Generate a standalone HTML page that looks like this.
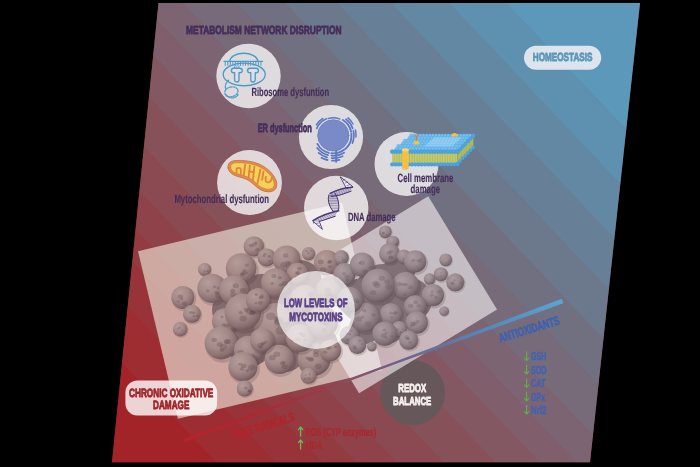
<!DOCTYPE html>
<html><head><meta charset="utf-8"><title>Mycotoxins redox balance</title>
<style>
html,body{margin:0;padding:0;background:#000;}
body{width:700px;height:467px;overflow:hidden;position:relative;font-family:"Liberation Sans",sans-serif;}
svg{display:block;position:absolute;left:0;top:0;will-change:transform;transform:translateZ(0);}
text{font-family:"Liberation Sans",sans-serif;font-weight:bold;text-rendering:geometricPrecision;}
</style></head><body>
<svg width="700" height="467" viewBox="0 0 700 467">
<defs>
<clipPath id="pc"><polygon points="158.5,3 640,3 590,462.3 112,462.3"/></clipPath>
</defs>
<g clip-path="url(#pc)">
<rect x="0" y="0" width="700" height="467" fill="#a32428"/>
<polygon points="-600,0 -221.4,0 221.316,467 -157.284,467" fill="#a32428"/>
<polygon points="-222,0 -162.4,0 280.316,467 220.716,467" fill="#9e2d32"/>
<polygon points="-163,0 -115.4,0 327.316,467 279.716,467" fill="#983439"/>
<polygon points="-116,0 -81.4,0 361.316,467 326.716,467" fill="#933b41"/>
<polygon points="-82,0 -41.4,0 401.316,467 360.716,467" fill="#8f4249"/>
<polygon points="-42,0 5.6,0 448.316,467 400.716,467" fill="#8b4951"/>
<polygon points="5,0 57.6,0 500.316,467 447.716,467" fill="#87515a"/>
<polygon points="57,0 101.6,0 544.316,467 499.716,467" fill="#835863"/>
<polygon points="101,0 138.6,0 581.316,467 543.716,467" fill="#805e6b"/>
<polygon points="138,0 180.1,0 622.816,467 580.716,467" fill="#7c6472"/>
<polygon points="179.5,0 233.6,0 676.316,467 622.216,467" fill="#776a79"/>
<polygon points="233,0 282.6,0 725.316,467 675.716,467" fill="#717081"/>
<polygon points="282,0 334.6,0 777.316,467 724.716,467" fill="#6c788c"/>
<polygon points="334,0 388.6,0 831.316,467 776.716,467" fill="#678098"/>
<polygon points="388,0 446.6,0 889.316,467 830.716,467" fill="#6288a3"/>
<polygon points="446,0 503.6,0 946.316,467 888.716,467" fill="#5e90af"/>
<polygon points="503,0 900.6,0 1343.32,467 945.716,467" fill="#5b98ba"/>
</g>
<circle cx="412.7" cy="392.7" r="32.4" fill="#66585a"/>
<defs>
<radialGradient id="sg" cx="0.40" cy="0.34" r="0.72" fx="0.36" fy="0.30"><stop offset="0" stop-color="#b49c99"/><stop offset="0.48" stop-color="#a48b89"/><stop offset="0.78" stop-color="#8a7071"/><stop offset="1" stop-color="#695052"/></radialGradient>
<radialGradient id="sg2" cx="0.40" cy="0.34" r="0.72" fx="0.36" fy="0.30"><stop offset="0" stop-color="#ad9da1"/><stop offset="0.48" stop-color="#9b8b90"/><stop offset="0.78" stop-color="#807075"/><stop offset="1" stop-color="#5f5156"/></radialGradient>
</defs>
<rect x="0" y="0" width="209.8" height="172.3" transform="translate(138,251.2) rotate(-13.4)" fill="#f0eede" fill-opacity="0.62"/>
<rect x="0" y="0" width="161.4" height="132.4" transform="translate(290.3,280.2) rotate(-31.3)" fill="#f6f2f4" fill-opacity="0.61"/>
<circle cx="262" cy="300" r="26" fill="#836a6c"/>
<circle cx="298" cy="322" r="30" fill="#836a6c"/>
<circle cx="250" cy="342" r="24" fill="#836a6c"/>
<circle cx="300" cy="282" r="22" fill="#836a6c"/>
<circle cx="232" cy="310" r="20" fill="#836a6c"/>
<circle cx="285" cy="352" r="20" fill="#836a6c"/>
<circle cx="318" cy="345" r="20" fill="#836a6c"/>
<circle cx="205.2" cy="270.3" r="6.9" fill="#4a3336" opacity="0.20"/><circle cx="204.6" cy="269.4" r="6.5" fill="url(#sg)"/><ellipse cx="204.5" cy="271.3" rx="1.3" ry="1.0" fill="#5e484c" opacity="0.30"/><ellipse cx="207.5" cy="271.2" rx="1.1" ry="0.8" fill="#5e484c" opacity="0.30"/><ellipse cx="207.5" cy="271.0" rx="0.8" ry="0.6" fill="#5e484c" opacity="0.30"/>
<circle cx="184.0" cy="299.0" r="12.2" fill="#4a3336" opacity="0.20"/><circle cx="182.8" cy="297.4" r="11.5" fill="url(#sg)"/><ellipse cx="181.8" cy="299.4" rx="1.5" ry="1.1" fill="#5e484c" opacity="0.30"/><ellipse cx="178.2" cy="301.4" rx="1.5" ry="1.2" fill="#5e484c" opacity="0.30"/><ellipse cx="184.6" cy="303.6" rx="2.8" ry="2.2" fill="#5e484c" opacity="0.30"/><ellipse cx="180.3" cy="296.7" rx="2.9" ry="2.2" fill="#5e484c" opacity="0.30"/>
<circle cx="192.8" cy="315.1" r="9.5" fill="#4a3336" opacity="0.20"/><circle cx="191.9" cy="313.8" r="9.0" fill="url(#sg)"/><ellipse cx="197.4" cy="316.1" rx="1.4" ry="1.1" fill="#5e484c" opacity="0.30"/><ellipse cx="193.8" cy="316.2" rx="1.4" ry="1.1" fill="#5e484c" opacity="0.30"/><ellipse cx="193.5" cy="312.8" rx="1.8" ry="1.4" fill="#5e484c" opacity="0.30"/><ellipse cx="190.7" cy="312.5" rx="1.7" ry="1.3" fill="#5e484c" opacity="0.30"/>
<circle cx="180.9" cy="330.1" r="7.7" fill="#4a3336" opacity="0.20"/><circle cx="180.2" cy="329.1" r="7.3" fill="url(#sg)"/><ellipse cx="182.0" cy="330.3" rx="1.0" ry="0.8" fill="#5e484c" opacity="0.30"/><ellipse cx="179.7" cy="327.5" rx="1.2" ry="0.9" fill="#5e484c" opacity="0.30"/><ellipse cx="178.5" cy="328.5" rx="1.1" ry="0.9" fill="#5e484c" opacity="0.30"/>
<circle cx="254.8" cy="247.8" r="10.8" fill="#4a3336" opacity="0.20"/><circle cx="253.8" cy="246.4" r="10.2" fill="url(#sg)"/><ellipse cx="256.0" cy="242.7" rx="1.5" ry="1.2" fill="#5e484c" opacity="0.30"/><ellipse cx="251.0" cy="245.6" rx="2.4" ry="1.9" fill="#5e484c" opacity="0.30"/><ellipse cx="254.2" cy="244.5" rx="2.6" ry="2.0" fill="#5e484c" opacity="0.30"/><ellipse cx="257.2" cy="249.8" rx="2.2" ry="1.8" fill="#5e484c" opacity="0.30"/>
<circle cx="267.5" cy="258.6" r="9.6" fill="#4a3336" opacity="0.20"/><circle cx="266.6" cy="257.3" r="9.1" fill="url(#sg)"/><ellipse cx="269.3" cy="261.0" rx="1.1" ry="0.9" fill="#5e484c" opacity="0.30"/><ellipse cx="265.0" cy="254.2" rx="1.8" ry="1.4" fill="#5e484c" opacity="0.30"/><ellipse cx="269.2" cy="256.3" rx="1.9" ry="1.5" fill="#5e484c" opacity="0.30"/><ellipse cx="264.1" cy="256.1" rx="1.6" ry="1.3" fill="#5e484c" opacity="0.30"/>
<circle cx="309.2" cy="254.6" r="7.0" fill="#4a3336" opacity="0.20"/><circle cx="308.5" cy="253.7" r="6.6" fill="url(#sg)"/><ellipse cx="311.1" cy="251.0" rx="1.2" ry="0.9" fill="#5e484c" opacity="0.30"/><ellipse cx="308.4" cy="253.3" rx="1.4" ry="1.1" fill="#5e484c" opacity="0.30"/><ellipse cx="306.6" cy="251.1" rx="1.5" ry="1.2" fill="#5e484c" opacity="0.30"/>
<circle cx="342.0" cy="258.3" r="7.7" fill="#4a3336" opacity="0.20"/><circle cx="341.3" cy="257.3" r="7.3" fill="url(#sg)"/><ellipse cx="341.4" cy="260.4" rx="1.5" ry="1.2" fill="#5e484c" opacity="0.30"/><ellipse cx="344.5" cy="258.4" rx="1.0" ry="0.8" fill="#5e484c" opacity="0.30"/><ellipse cx="342.8" cy="258.9" rx="1.6" ry="1.3" fill="#5e484c" opacity="0.30"/>
<circle cx="328.0" cy="264.6" r="13.6" fill="#4a3336" opacity="0.20"/><circle cx="326.7" cy="262.8" r="12.8" fill="url(#sg)"/><ellipse cx="330.1" cy="266.6" rx="2.2" ry="1.7" fill="#5e484c" opacity="0.30"/><ellipse cx="329.4" cy="262.3" rx="2.3" ry="1.8" fill="#5e484c" opacity="0.30"/><ellipse cx="320.8" cy="261.9" rx="2.9" ry="2.3" fill="#5e484c" opacity="0.30"/><ellipse cx="330.1" cy="261.4" rx="2.2" ry="1.7" fill="#5e484c" opacity="0.30"/><ellipse cx="323.2" cy="269.7" rx="3.2" ry="2.5" fill="#5e484c" opacity="0.30"/>
<circle cx="288.0" cy="261.1" r="14.6" fill="#4a3336" opacity="0.20"/><circle cx="286.6" cy="259.2" r="13.8" fill="url(#sg)"/><ellipse cx="289.6" cy="263.2" rx="2.0" ry="1.6" fill="#5e484c" opacity="0.30"/><ellipse cx="288.2" cy="265.8" rx="2.7" ry="2.1" fill="#5e484c" opacity="0.30"/><ellipse cx="287.5" cy="262.7" rx="2.4" ry="1.9" fill="#5e484c" opacity="0.30"/><ellipse cx="283.8" cy="264.8" rx="3.4" ry="2.7" fill="#5e484c" opacity="0.30"/><ellipse cx="285.7" cy="255.5" rx="2.8" ry="2.2" fill="#5e484c" opacity="0.30"/>
<circle cx="298.7" cy="275.2" r="11.7" fill="#4a3336" opacity="0.20"/><circle cx="297.6" cy="273.7" r="11.0" fill="url(#sg)"/><ellipse cx="297.6" cy="273.1" rx="2.6" ry="2.1" fill="#5e484c" opacity="0.30"/><ellipse cx="299.6" cy="268.7" rx="2.5" ry="1.9" fill="#5e484c" opacity="0.30"/><ellipse cx="295.6" cy="277.1" rx="1.4" ry="1.1" fill="#5e484c" opacity="0.30"/><ellipse cx="297.2" cy="273.3" rx="1.4" ry="1.1" fill="#5e484c" opacity="0.30"/>
<circle cx="242.6" cy="270.4" r="16.2" fill="#4a3336" opacity="0.20"/><circle cx="241.1" cy="268.3" r="15.3" fill="url(#sg)"/><ellipse cx="243.2" cy="273.2" rx="2.5" ry="1.9" fill="#5e484c" opacity="0.30"/><ellipse cx="244.5" cy="270.6" rx="2.1" ry="1.6" fill="#5e484c" opacity="0.30"/><ellipse cx="246.3" cy="272.8" rx="1.8" ry="1.4" fill="#5e484c" opacity="0.30"/><ellipse cx="247.0" cy="265.1" rx="2.1" ry="1.6" fill="#5e484c" opacity="0.30"/><ellipse cx="242.3" cy="274.6" rx="2.5" ry="2.0" fill="#5e484c" opacity="0.30"/>
<circle cx="213.4" cy="290.3" r="15.5" fill="#4a3336" opacity="0.20"/><circle cx="211.9" cy="288.3" r="14.6" fill="url(#sg)"/><ellipse cx="218.8" cy="295.4" rx="3.7" ry="2.9" fill="#5e484c" opacity="0.30"/><ellipse cx="207.7" cy="290.9" rx="1.9" ry="1.4" fill="#5e484c" opacity="0.30"/><ellipse cx="216.7" cy="292.5" rx="2.2" ry="1.7" fill="#5e484c" opacity="0.30"/><ellipse cx="214.6" cy="286.9" rx="1.7" ry="1.4" fill="#5e484c" opacity="0.30"/><ellipse cx="218.6" cy="288.0" rx="2.0" ry="1.5" fill="#5e484c" opacity="0.30"/>
<circle cx="235.3" cy="292.1" r="15.5" fill="#4a3336" opacity="0.20"/><circle cx="233.8" cy="290.1" r="14.6" fill="url(#sg)"/><ellipse cx="232.7" cy="290.9" rx="2.7" ry="2.1" fill="#5e484c" opacity="0.30"/><ellipse cx="243.0" cy="290.5" rx="3.1" ry="2.4" fill="#5e484c" opacity="0.30"/><ellipse cx="234.6" cy="296.3" rx="2.0" ry="1.6" fill="#5e484c" opacity="0.30"/><ellipse cx="235.8" cy="285.8" rx="3.2" ry="2.5" fill="#5e484c" opacity="0.30"/><ellipse cx="233.2" cy="294.8" rx="3.3" ry="2.6" fill="#5e484c" opacity="0.30"/>
<circle cx="277.2" cy="284.8" r="15.5" fill="#4a3336" opacity="0.20"/><circle cx="275.7" cy="282.8" r="14.6" fill="url(#sg)"/><ellipse cx="284.9" cy="283.5" rx="3.3" ry="2.6" fill="#5e484c" opacity="0.30"/><ellipse cx="279.9" cy="277.7" rx="2.1" ry="1.7" fill="#5e484c" opacity="0.30"/><ellipse cx="272.3" cy="283.7" rx="1.7" ry="1.4" fill="#5e484c" opacity="0.30"/><ellipse cx="280.9" cy="285.0" rx="2.2" ry="1.7" fill="#5e484c" opacity="0.30"/><ellipse cx="273.8" cy="276.1" rx="2.6" ry="2.0" fill="#5e484c" opacity="0.30"/>
<circle cx="226.0" cy="322.9" r="13.6" fill="#4a3336" opacity="0.20"/><circle cx="224.7" cy="321.1" r="12.8" fill="url(#sg)"/><ellipse cx="233.0" cy="319.3" rx="3.2" ry="2.5" fill="#5e484c" opacity="0.30"/><ellipse cx="223.6" cy="324.8" rx="1.9" ry="1.5" fill="#5e484c" opacity="0.30"/><ellipse cx="226.8" cy="325.4" rx="2.6" ry="2.0" fill="#5e484c" opacity="0.30"/><ellipse cx="231.4" cy="318.3" rx="2.3" ry="1.8" fill="#5e484c" opacity="0.30"/><ellipse cx="221.9" cy="316.9" rx="1.6" ry="1.3" fill="#5e484c" opacity="0.30"/>
<circle cx="277.9" cy="327.9" r="23.2" fill="#4a3336" opacity="0.20"/><circle cx="275.7" cy="324.8" r="21.9" fill="url(#sg)"/><ellipse cx="270.7" cy="316.3" rx="4.9" ry="3.8" fill="#5e484c" opacity="0.30"/><ellipse cx="277.5" cy="318.8" rx="3.1" ry="2.4" fill="#5e484c" opacity="0.30"/><ellipse cx="279.1" cy="320.5" rx="4.9" ry="3.9" fill="#5e484c" opacity="0.30"/><ellipse cx="284.7" cy="325.7" rx="3.7" ry="2.9" fill="#5e484c" opacity="0.30"/><ellipse cx="287.6" cy="323.5" rx="3.0" ry="2.4" fill="#5e484c" opacity="0.30"/><ellipse cx="280.8" cy="330.5" rx="5.3" ry="4.1" fill="#5e484c" opacity="0.30"/><ellipse cx="279.1" cy="322.5" rx="5.0" ry="3.9" fill="#5e484c" opacity="0.30"/>
<circle cx="244.7" cy="314.5" r="19.3" fill="#4a3336" opacity="0.20"/><circle cx="242.9" cy="312.0" r="18.2" fill="url(#sg)"/><ellipse cx="252.6" cy="312.8" rx="3.0" ry="2.3" fill="#5e484c" opacity="0.30"/><ellipse cx="240.7" cy="312.7" rx="2.1" ry="1.7" fill="#5e484c" opacity="0.30"/><ellipse cx="252.5" cy="312.3" rx="3.4" ry="2.7" fill="#5e484c" opacity="0.30"/><ellipse cx="250.2" cy="311.2" rx="4.3" ry="3.4" fill="#5e484c" opacity="0.30"/><ellipse cx="246.4" cy="309.8" rx="2.7" ry="2.1" fill="#5e484c" opacity="0.30"/><ellipse cx="243.1" cy="318.4" rx="3.6" ry="2.8" fill="#5e484c" opacity="0.30"/>
<circle cx="222.6" cy="345.3" r="17.4" fill="#4a3336" opacity="0.20"/><circle cx="221.0" cy="343.0" r="16.4" fill="url(#sg)"/><ellipse cx="222.0" cy="350.3" rx="2.2" ry="1.7" fill="#5e484c" opacity="0.30"/><ellipse cx="226.7" cy="341.9" rx="2.9" ry="2.3" fill="#5e484c" opacity="0.30"/><ellipse cx="214.1" cy="339.9" rx="2.8" ry="2.2" fill="#5e484c" opacity="0.30"/><ellipse cx="227.8" cy="341.5" rx="3.1" ry="2.4" fill="#5e484c" opacity="0.30"/><ellipse cx="219.7" cy="344.3" rx="2.9" ry="2.3" fill="#5e484c" opacity="0.30"/><ellipse cx="223.3" cy="346.9" rx="3.7" ry="2.9" fill="#5e484c" opacity="0.30"/>
<circle cx="315.6" cy="361.7" r="17.4" fill="#4a3336" opacity="0.20"/><circle cx="314.0" cy="359.4" r="16.4" fill="url(#sg)"/><ellipse cx="318.2" cy="366.4" rx="3.5" ry="2.8" fill="#5e484c" opacity="0.30"/><ellipse cx="310.6" cy="359.3" rx="3.1" ry="2.4" fill="#5e484c" opacity="0.30"/><ellipse cx="307.3" cy="358.1" rx="2.1" ry="1.7" fill="#5e484c" opacity="0.30"/><ellipse cx="311.2" cy="359.4" rx="2.5" ry="2.0" fill="#5e484c" opacity="0.30"/><ellipse cx="316.2" cy="354.7" rx="3.2" ry="2.5" fill="#5e484c" opacity="0.30"/><ellipse cx="315.9" cy="351.6" rx="2.9" ry="2.3" fill="#5e484c" opacity="0.30"/>
<circle cx="331.4" cy="351.8" r="11.6" fill="#4a3336" opacity="0.20"/><circle cx="330.3" cy="350.3" r="10.9" fill="url(#sg)"/><ellipse cx="328.0" cy="348.6" rx="2.0" ry="1.6" fill="#5e484c" opacity="0.30"/><ellipse cx="329.8" cy="347.7" rx="2.1" ry="1.6" fill="#5e484c" opacity="0.30"/><ellipse cx="324.8" cy="352.3" rx="2.3" ry="1.8" fill="#5e484c" opacity="0.30"/><ellipse cx="335.8" cy="346.9" rx="1.6" ry="1.3" fill="#5e484c" opacity="0.30"/>
<circle cx="280.8" cy="361.4" r="15.5" fill="#4a3336" opacity="0.20"/><circle cx="279.3" cy="359.4" r="14.6" fill="url(#sg)"/><ellipse cx="272.4" cy="357.7" rx="3.4" ry="2.6" fill="#5e484c" opacity="0.30"/><ellipse cx="282.4" cy="363.2" rx="2.6" ry="2.0" fill="#5e484c" opacity="0.30"/><ellipse cx="283.9" cy="362.6" rx="1.8" ry="1.4" fill="#5e484c" opacity="0.30"/><ellipse cx="276.8" cy="354.2" rx="3.5" ry="2.7" fill="#5e484c" opacity="0.30"/><ellipse cx="284.5" cy="366.7" rx="3.0" ry="2.4" fill="#5e484c" opacity="0.30"/>
<circle cx="249.9" cy="352.3" r="15.5" fill="#4a3336" opacity="0.20"/><circle cx="248.4" cy="350.3" r="14.6" fill="url(#sg)"/><ellipse cx="254.7" cy="358.2" rx="3.6" ry="2.8" fill="#5e484c" opacity="0.30"/><ellipse cx="251.2" cy="360.3" rx="2.5" ry="1.9" fill="#5e484c" opacity="0.30"/><ellipse cx="240.6" cy="352.5" rx="3.4" ry="2.6" fill="#5e484c" opacity="0.30"/><ellipse cx="252.3" cy="356.1" rx="2.7" ry="2.1" fill="#5e484c" opacity="0.30"/><ellipse cx="247.7" cy="354.8" rx="2.3" ry="1.8" fill="#5e484c" opacity="0.30"/>
<circle cx="244.4" cy="368.7" r="15.5" fill="#4a3336" opacity="0.20"/><circle cx="242.9" cy="366.7" r="14.6" fill="url(#sg)"/><ellipse cx="243.7" cy="365.9" rx="2.8" ry="2.2" fill="#5e484c" opacity="0.30"/><ellipse cx="241.9" cy="369.0" rx="2.3" ry="1.8" fill="#5e484c" opacity="0.30"/><ellipse cx="240.0" cy="364.2" rx="1.8" ry="1.4" fill="#5e484c" opacity="0.30"/><ellipse cx="251.6" cy="367.4" rx="3.6" ry="2.8" fill="#5e484c" opacity="0.30"/><ellipse cx="247.2" cy="370.6" rx="1.8" ry="1.4" fill="#5e484c" opacity="0.30"/>
<circle cx="309.3" cy="376.9" r="8.5" fill="#4a3336" opacity="0.20"/><circle cx="308.5" cy="375.8" r="8.0" fill="url(#sg)"/><ellipse cx="309.5" cy="374.4" rx="1.1" ry="0.8" fill="#5e484c" opacity="0.30"/><ellipse cx="305.1" cy="378.8" rx="1.8" ry="1.4" fill="#5e484c" opacity="0.30"/><ellipse cx="309.0" cy="378.4" rx="1.9" ry="1.5" fill="#5e484c" opacity="0.30"/><ellipse cx="305.7" cy="375.0" rx="1.0" ry="0.8" fill="#5e484c" opacity="0.30"/>
<circle cx="245.5" cy="389.6" r="8.5" fill="#4a3336" opacity="0.20"/><circle cx="244.7" cy="388.5" r="8.0" fill="url(#sg)"/><ellipse cx="248.9" cy="390.6" rx="1.4" ry="1.1" fill="#5e484c" opacity="0.30"/><ellipse cx="249.6" cy="391.4" rx="1.6" ry="1.3" fill="#5e484c" opacity="0.30"/><ellipse cx="245.8" cy="387.9" rx="1.9" ry="1.5" fill="#5e484c" opacity="0.30"/><ellipse cx="249.4" cy="391.1" rx="1.4" ry="1.1" fill="#5e484c" opacity="0.30"/>
<circle cx="263.2" cy="341.7" r="12.7" fill="#4a3336" opacity="0.20"/><circle cx="262.0" cy="340.0" r="12.0" fill="url(#sg)"/><ellipse cx="260.3" cy="345.4" rx="2.9" ry="2.3" fill="#5e484c" opacity="0.30"/><ellipse cx="262.7" cy="343.7" rx="2.3" ry="1.8" fill="#5e484c" opacity="0.30"/><ellipse cx="263.1" cy="343.6" rx="1.6" ry="1.3" fill="#5e484c" opacity="0.30"/><ellipse cx="265.8" cy="342.1" rx="1.9" ry="1.5" fill="#5e484c" opacity="0.30"/><ellipse cx="260.9" cy="346.9" rx="1.9" ry="1.5" fill="#5e484c" opacity="0.30"/>
<circle cx="301.4" cy="340.0" r="14.8" fill="#4a3336" opacity="0.20"/><circle cx="300.0" cy="338.0" r="14.0" fill="url(#sg)"/><ellipse cx="297.8" cy="339.4" rx="2.3" ry="1.8" fill="#5e484c" opacity="0.30"/><ellipse cx="304.8" cy="339.8" rx="1.6" ry="1.3" fill="#5e484c" opacity="0.30"/><ellipse cx="300.5" cy="333.7" rx="2.0" ry="1.5" fill="#5e484c" opacity="0.30"/><ellipse cx="293.0" cy="340.7" rx="1.8" ry="1.4" fill="#5e484c" opacity="0.30"/><ellipse cx="303.2" cy="334.9" rx="2.6" ry="2.0" fill="#5e484c" opacity="0.30"/>
<circle cx="259.2" cy="301.7" r="12.7" fill="#4a3336" opacity="0.20"/><circle cx="258.0" cy="300.0" r="12.0" fill="url(#sg)"/><ellipse cx="261.0" cy="297.7" rx="2.2" ry="1.7" fill="#5e484c" opacity="0.30"/><ellipse cx="256.2" cy="294.4" rx="1.9" ry="1.5" fill="#5e484c" opacity="0.30"/><ellipse cx="261.8" cy="296.2" rx="2.4" ry="1.9" fill="#5e484c" opacity="0.30"/><ellipse cx="255.9" cy="303.3" rx="1.5" ry="1.2" fill="#5e484c" opacity="0.30"/><ellipse cx="260.5" cy="302.8" rx="2.6" ry="2.0" fill="#5e484c" opacity="0.30"/>
<circle cx="306.5" cy="302.1" r="15.9" fill="#4a3336" opacity="0.20"/><circle cx="305.0" cy="300.0" r="15.0" fill="url(#sg)"/><ellipse cx="306.1" cy="304.9" rx="1.9" ry="1.5" fill="#5e484c" opacity="0.30"/><ellipse cx="310.8" cy="294.5" rx="3.1" ry="2.4" fill="#5e484c" opacity="0.30"/><ellipse cx="305.4" cy="305.4" rx="2.3" ry="1.8" fill="#5e484c" opacity="0.30"/><ellipse cx="302.9" cy="302.3" rx="2.6" ry="2.1" fill="#5e484c" opacity="0.30"/><ellipse cx="305.4" cy="310.5" rx="3.7" ry="2.9" fill="#5e484c" opacity="0.30"/>
<circle cx="331.4" cy="292.0" r="14.8" fill="#4a3336" opacity="0.20"/><circle cx="330.0" cy="290.0" r="14.0" fill="url(#sg)"/><ellipse cx="327.6" cy="290.3" rx="3.5" ry="2.7" fill="#5e484c" opacity="0.30"/><ellipse cx="329.5" cy="295.5" rx="1.6" ry="1.3" fill="#5e484c" opacity="0.30"/><ellipse cx="327.3" cy="294.9" rx="2.6" ry="2.0" fill="#5e484c" opacity="0.30"/><ellipse cx="332.8" cy="296.6" rx="1.6" ry="1.3" fill="#5e484c" opacity="0.30"/><ellipse cx="330.9" cy="294.1" rx="2.4" ry="1.9" fill="#5e484c" opacity="0.30"/>
<circle cx="323.6" cy="324.2" r="17.0" fill="#4a3336" opacity="0.20"/><circle cx="322.0" cy="322.0" r="16.0" fill="url(#sg)"/><ellipse cx="325.8" cy="324.3" rx="2.5" ry="2.0" fill="#5e484c" opacity="0.30"/><ellipse cx="324.0" cy="330.4" rx="3.0" ry="2.4" fill="#5e484c" opacity="0.30"/><ellipse cx="323.3" cy="316.3" rx="3.4" ry="2.7" fill="#5e484c" opacity="0.30"/><ellipse cx="327.1" cy="319.9" rx="2.6" ry="2.0" fill="#5e484c" opacity="0.30"/><ellipse cx="326.8" cy="323.3" rx="3.4" ry="2.7" fill="#5e484c" opacity="0.30"/><ellipse cx="321.6" cy="321.5" rx="3.7" ry="2.9" fill="#5e484c" opacity="0.30"/>
<circle cx="383" cy="292" r="28" fill="#7f7176"/>
<circle cx="386" cy="322" r="22" fill="#7f7176"/>
<circle cx="410" cy="300" r="22" fill="#7f7176"/>
<circle cx="362" cy="300" r="22" fill="#7f7176"/>
<circle cx="400" cy="268" r="16" fill="#7f7176"/>
<circle cx="365" cy="328" r="16" fill="#7f7176"/>
<circle cx="385.9" cy="232.7" r="6.8" fill="#4a3336" opacity="0.20"/><circle cx="385.3" cy="231.8" r="6.4" fill="url(#sg2)"/><ellipse cx="383.3" cy="233.2" rx="1.6" ry="1.2" fill="#655a5f" opacity="0.30"/><ellipse cx="383.4" cy="233.0" rx="1.3" ry="1.0" fill="#655a5f" opacity="0.30"/><ellipse cx="386.8" cy="234.7" rx="1.3" ry="1.0" fill="#655a5f" opacity="0.30"/>
<circle cx="393.3" cy="243.0" r="6.8" fill="#4a3336" opacity="0.20"/><circle cx="392.7" cy="242.1" r="6.4" fill="url(#sg2)"/><ellipse cx="393.5" cy="241.5" rx="1.0" ry="0.8" fill="#655a5f" opacity="0.30"/><ellipse cx="396.1" cy="244.6" rx="1.3" ry="1.1" fill="#655a5f" opacity="0.30"/><ellipse cx="397.0" cy="243.8" rx="1.6" ry="1.2" fill="#655a5f" opacity="0.30"/>
<circle cx="446.3" cy="260.7" r="6.8" fill="#4a3336" opacity="0.20"/><circle cx="445.7" cy="259.8" r="6.4" fill="url(#sg2)"/><ellipse cx="444.6" cy="258.1" rx="0.9" ry="0.7" fill="#655a5f" opacity="0.30"/><ellipse cx="448.8" cy="260.7" rx="0.8" ry="0.6" fill="#655a5f" opacity="0.30"/><ellipse cx="446.8" cy="262.0" rx="0.8" ry="0.6" fill="#655a5f" opacity="0.30"/>
<circle cx="456.2" cy="283.6" r="9.5" fill="#4a3336" opacity="0.20"/><circle cx="455.3" cy="282.3" r="9.0" fill="url(#sg2)"/><ellipse cx="452.9" cy="283.9" rx="2.1" ry="1.6" fill="#655a5f" opacity="0.30"/><ellipse cx="452.0" cy="282.7" rx="1.7" ry="1.3" fill="#655a5f" opacity="0.30"/><ellipse cx="454.3" cy="280.4" rx="1.4" ry="1.1" fill="#655a5f" opacity="0.30"/><ellipse cx="461.6" cy="283.1" rx="2.1" ry="1.6" fill="#655a5f" opacity="0.30"/>
<circle cx="441.5" cy="275.3" r="7.4" fill="#4a3336" opacity="0.20"/><circle cx="440.8" cy="274.3" r="7.0" fill="url(#sg2)"/><ellipse cx="440.8" cy="273.0" rx="1.0" ry="0.8" fill="#655a5f" opacity="0.30"/><ellipse cx="441.0" cy="276.2" rx="1.5" ry="1.2" fill="#655a5f" opacity="0.30"/><ellipse cx="438.3" cy="277.2" rx="1.2" ry="0.9" fill="#655a5f" opacity="0.30"/>
<circle cx="430.2" cy="279.9" r="6.1" fill="#4a3336" opacity="0.20"/><circle cx="429.6" cy="279.1" r="5.8" fill="url(#sg2)"/><ellipse cx="433.1" cy="278.9" rx="0.7" ry="0.5" fill="#655a5f" opacity="0.30"/><ellipse cx="430.9" cy="282.9" rx="1.0" ry="0.8" fill="#655a5f" opacity="0.30"/><ellipse cx="432.0" cy="279.4" rx="0.7" ry="0.6" fill="#655a5f" opacity="0.30"/>
<circle cx="341.9" cy="259.2" r="7.4" fill="#4a3336" opacity="0.20"/><circle cx="341.2" cy="258.2" r="7.0" fill="url(#sg2)"/><ellipse cx="339.3" cy="256.3" rx="1.1" ry="0.8" fill="#655a5f" opacity="0.30"/><ellipse cx="343.6" cy="260.0" rx="1.7" ry="1.4" fill="#655a5f" opacity="0.30"/><ellipse cx="341.8" cy="257.5" rx="1.0" ry="0.8" fill="#655a5f" opacity="0.30"/>
<circle cx="345.6" cy="275.9" r="11.9" fill="#4a3336" opacity="0.20"/><circle cx="344.5" cy="274.3" r="11.2" fill="url(#sg2)"/><ellipse cx="347.0" cy="276.6" rx="2.5" ry="2.0" fill="#655a5f" opacity="0.30"/><ellipse cx="347.4" cy="279.6" rx="2.0" ry="1.5" fill="#655a5f" opacity="0.30"/><ellipse cx="347.4" cy="280.6" rx="1.5" ry="1.2" fill="#655a5f" opacity="0.30"/><ellipse cx="344.0" cy="273.6" rx="1.9" ry="1.5" fill="#655a5f" opacity="0.30"/>
<circle cx="390.4" cy="254.8" r="10.9" fill="#4a3336" opacity="0.20"/><circle cx="389.4" cy="253.4" r="10.3" fill="url(#sg2)"/><ellipse cx="390.9" cy="257.2" rx="2.6" ry="2.0" fill="#655a5f" opacity="0.30"/><ellipse cx="391.2" cy="251.6" rx="2.4" ry="1.9" fill="#655a5f" opacity="0.30"/><ellipse cx="391.1" cy="257.8" rx="2.4" ry="1.9" fill="#655a5f" opacity="0.30"/><ellipse cx="388.9" cy="252.9" rx="2.6" ry="2.0" fill="#655a5f" opacity="0.30"/>
<circle cx="404.6" cy="257.6" r="7.4" fill="#4a3336" opacity="0.20"/><circle cx="403.9" cy="256.6" r="7.0" fill="url(#sg2)"/><ellipse cx="404.9" cy="259.1" rx="1.6" ry="1.2" fill="#655a5f" opacity="0.30"/><ellipse cx="403.5" cy="259.1" rx="0.9" ry="0.7" fill="#655a5f" opacity="0.30"/><ellipse cx="407.0" cy="258.9" rx="1.0" ry="0.8" fill="#655a5f" opacity="0.30"/>
<circle cx="416.2" cy="263.0" r="11.9" fill="#4a3336" opacity="0.20"/><circle cx="415.1" cy="261.4" r="11.2" fill="url(#sg2)"/><ellipse cx="413.1" cy="260.4" rx="2.0" ry="1.6" fill="#655a5f" opacity="0.30"/><ellipse cx="420.1" cy="261.4" rx="2.2" ry="1.7" fill="#655a5f" opacity="0.30"/><ellipse cx="417.8" cy="260.6" rx="1.5" ry="1.2" fill="#655a5f" opacity="0.30"/><ellipse cx="421.0" cy="259.3" rx="1.7" ry="1.3" fill="#655a5f" opacity="0.30"/>
<circle cx="363.3" cy="266.3" r="12.9" fill="#4a3336" opacity="0.20"/><circle cx="362.1" cy="264.6" r="12.2" fill="url(#sg2)"/><ellipse cx="365.3" cy="271.5" rx="3.0" ry="2.3" fill="#655a5f" opacity="0.30"/><ellipse cx="365.5" cy="272.7" rx="2.9" ry="2.3" fill="#655a5f" opacity="0.30"/><ellipse cx="359.7" cy="263.2" rx="1.6" ry="1.2" fill="#655a5f" opacity="0.30"/><ellipse cx="370.2" cy="267.6" rx="1.8" ry="1.4" fill="#655a5f" opacity="0.30"/><ellipse cx="362.1" cy="262.7" rx="2.8" ry="2.2" fill="#655a5f" opacity="0.30"/>
<circle cx="406.9" cy="287.4" r="14.3" fill="#4a3336" opacity="0.20"/><circle cx="405.5" cy="285.5" r="13.5" fill="url(#sg2)"/><ellipse cx="403.4" cy="284.6" rx="1.9" ry="1.5" fill="#655a5f" opacity="0.30"/><ellipse cx="406.1" cy="284.4" rx="2.0" ry="1.5" fill="#655a5f" opacity="0.30"/><ellipse cx="399.7" cy="284.1" rx="2.7" ry="2.1" fill="#655a5f" opacity="0.30"/><ellipse cx="405.1" cy="294.6" rx="1.9" ry="1.5" fill="#655a5f" opacity="0.30"/><ellipse cx="410.3" cy="287.2" rx="2.4" ry="1.9" fill="#655a5f" opacity="0.30"/>
<circle cx="433.9" cy="296.7" r="11.9" fill="#4a3336" opacity="0.20"/><circle cx="432.8" cy="295.1" r="11.2" fill="url(#sg2)"/><ellipse cx="436.1" cy="297.2" rx="1.9" ry="1.5" fill="#655a5f" opacity="0.30"/><ellipse cx="431.6" cy="295.2" rx="1.8" ry="1.4" fill="#655a5f" opacity="0.30"/><ellipse cx="439.0" cy="291.9" rx="2.3" ry="1.8" fill="#655a5f" opacity="0.30"/><ellipse cx="432.0" cy="291.8" rx="1.5" ry="1.2" fill="#655a5f" opacity="0.30"/>
<circle cx="444.6" cy="311.9" r="5.1" fill="#4a3336" opacity="0.20"/><circle cx="444.1" cy="311.2" r="4.8" fill="url(#sg2)"/><ellipse cx="445.2" cy="311.8" rx="1.2" ry="0.9" fill="#655a5f" opacity="0.30"/><ellipse cx="443.6" cy="308.9" rx="0.6" ry="0.4" fill="#655a5f" opacity="0.30"/><ellipse cx="443.3" cy="310.3" rx="1.0" ry="0.8" fill="#655a5f" opacity="0.30"/>
<circle cx="416.2" cy="308.0" r="11.9" fill="#4a3336" opacity="0.20"/><circle cx="415.1" cy="306.4" r="11.2" fill="url(#sg2)"/><ellipse cx="413.1" cy="313.8" rx="1.4" ry="1.1" fill="#655a5f" opacity="0.30"/><ellipse cx="410.7" cy="305.9" rx="2.7" ry="2.1" fill="#655a5f" opacity="0.30"/><ellipse cx="415.6" cy="302.2" rx="2.5" ry="2.0" fill="#655a5f" opacity="0.30"/><ellipse cx="419.0" cy="305.7" rx="2.3" ry="1.8" fill="#655a5f" opacity="0.30"/>
<circle cx="379.9" cy="287.8" r="17.7" fill="#4a3336" opacity="0.20"/><circle cx="378.2" cy="285.5" r="16.7" fill="url(#sg2)"/><ellipse cx="387.1" cy="281.7" rx="2.9" ry="2.3" fill="#655a5f" opacity="0.30"/><ellipse cx="381.9" cy="278.2" rx="3.2" ry="2.5" fill="#655a5f" opacity="0.30"/><ellipse cx="375.6" cy="283.3" rx="3.3" ry="2.6" fill="#655a5f" opacity="0.30"/><ellipse cx="377.1" cy="285.2" rx="3.4" ry="2.7" fill="#655a5f" opacity="0.30"/><ellipse cx="388.9" cy="286.8" rx="3.6" ry="2.8" fill="#655a5f" opacity="0.30"/><ellipse cx="373.2" cy="292.5" rx="3.3" ry="2.6" fill="#655a5f" opacity="0.30"/>
<circle cx="417.8" cy="324.1" r="11.9" fill="#4a3336" opacity="0.20"/><circle cx="416.7" cy="322.5" r="11.2" fill="url(#sg2)"/><ellipse cx="411.9" cy="325.8" rx="1.4" ry="1.1" fill="#655a5f" opacity="0.30"/><ellipse cx="417.6" cy="321.8" rx="2.2" ry="1.7" fill="#655a5f" opacity="0.30"/><ellipse cx="414.7" cy="324.0" rx="2.4" ry="1.9" fill="#655a5f" opacity="0.30"/><ellipse cx="412.7" cy="323.7" rx="2.7" ry="2.1" fill="#655a5f" opacity="0.30"/>
<circle cx="392.1" cy="316.0" r="11.9" fill="#4a3336" opacity="0.20"/><circle cx="391.0" cy="314.4" r="11.2" fill="url(#sg2)"/><ellipse cx="391.8" cy="317.3" rx="1.8" ry="1.4" fill="#655a5f" opacity="0.30"/><ellipse cx="390.7" cy="313.0" rx="1.6" ry="1.2" fill="#655a5f" opacity="0.30"/><ellipse cx="396.2" cy="312.6" rx="2.0" ry="1.5" fill="#655a5f" opacity="0.30"/><ellipse cx="394.5" cy="313.4" rx="2.3" ry="1.8" fill="#655a5f" opacity="0.30"/>
<circle cx="366.8" cy="319.6" r="15.4" fill="#4a3336" opacity="0.20"/><circle cx="365.3" cy="317.6" r="14.5" fill="url(#sg2)"/><ellipse cx="368.1" cy="323.9" rx="3.3" ry="2.6" fill="#655a5f" opacity="0.30"/><ellipse cx="373.5" cy="314.9" rx="2.4" ry="1.9" fill="#655a5f" opacity="0.30"/><ellipse cx="362.7" cy="316.9" rx="1.9" ry="1.5" fill="#655a5f" opacity="0.30"/><ellipse cx="358.6" cy="319.2" rx="3.4" ry="2.6" fill="#655a5f" opacity="0.30"/><ellipse cx="364.4" cy="310.7" rx="2.2" ry="1.7" fill="#655a5f" opacity="0.30"/>
<circle cx="399.9" cy="330.0" r="8.5" fill="#4a3336" opacity="0.20"/><circle cx="399.1" cy="328.9" r="8.0" fill="url(#sg2)"/><ellipse cx="401.1" cy="332.2" rx="1.2" ry="1.0" fill="#655a5f" opacity="0.30"/><ellipse cx="400.4" cy="332.4" rx="1.6" ry="1.3" fill="#655a5f" opacity="0.30"/><ellipse cx="397.4" cy="329.8" rx="1.8" ry="1.4" fill="#655a5f" opacity="0.30"/><ellipse cx="402.6" cy="329.4" rx="1.0" ry="0.8" fill="#655a5f" opacity="0.30"/>
<circle cx="385.8" cy="335.4" r="12.9" fill="#4a3336" opacity="0.20"/><circle cx="384.6" cy="333.7" r="12.2" fill="url(#sg2)"/><ellipse cx="392.3" cy="336.3" rx="1.5" ry="1.2" fill="#655a5f" opacity="0.30"/><ellipse cx="384.3" cy="330.0" rx="1.9" ry="1.5" fill="#655a5f" opacity="0.30"/><ellipse cx="386.1" cy="333.0" rx="1.6" ry="1.3" fill="#655a5f" opacity="0.30"/><ellipse cx="383.7" cy="335.5" rx="2.8" ry="2.2" fill="#655a5f" opacity="0.30"/><ellipse cx="385.8" cy="337.5" rx="1.5" ry="1.2" fill="#655a5f" opacity="0.30"/>
<circle cx="409.7" cy="341.4" r="10.2" fill="#4a3336" opacity="0.20"/><circle cx="408.7" cy="340.1" r="9.6" fill="url(#sg2)"/><ellipse cx="407.1" cy="338.6" rx="1.9" ry="1.5" fill="#655a5f" opacity="0.30"/><ellipse cx="406.6" cy="336.9" rx="2.4" ry="1.9" fill="#655a5f" opacity="0.30"/><ellipse cx="408.5" cy="338.9" rx="1.7" ry="1.4" fill="#655a5f" opacity="0.30"/><ellipse cx="410.1" cy="342.4" rx="1.7" ry="1.4" fill="#655a5f" opacity="0.30"/>
<circle cx="350.3" cy="336.6" r="10.2" fill="#4a3336" opacity="0.20"/><circle cx="349.3" cy="335.3" r="9.6" fill="url(#sg2)"/><ellipse cx="349.6" cy="334.1" rx="1.5" ry="1.1" fill="#655a5f" opacity="0.30"/><ellipse cx="347.5" cy="340.0" rx="1.8" ry="1.4" fill="#655a5f" opacity="0.30"/><ellipse cx="346.4" cy="333.1" rx="1.6" ry="1.3" fill="#655a5f" opacity="0.30"/><ellipse cx="351.5" cy="330.9" rx="1.2" ry="1.0" fill="#655a5f" opacity="0.30"/>
<circle cx="358.2" cy="346.2" r="9.5" fill="#4a3336" opacity="0.20"/><circle cx="357.3" cy="344.9" r="9.0" fill="url(#sg2)"/><ellipse cx="362.0" cy="344.0" rx="1.2" ry="0.9" fill="#655a5f" opacity="0.30"/><ellipse cx="354.2" cy="347.0" rx="2.2" ry="1.7" fill="#655a5f" opacity="0.30"/><ellipse cx="355.3" cy="348.4" rx="2.1" ry="1.7" fill="#655a5f" opacity="0.30"/><ellipse cx="359.6" cy="340.7" rx="1.6" ry="1.3" fill="#655a5f" opacity="0.30"/>
<circle cx="372.3" cy="347.2" r="5.1" fill="#4a3336" opacity="0.20"/><circle cx="371.8" cy="346.5" r="4.8" fill="url(#sg2)"/><ellipse cx="371.5" cy="346.0" rx="1.0" ry="0.8" fill="#655a5f" opacity="0.30"/><ellipse cx="373.1" cy="345.0" rx="1.0" ry="0.8" fill="#655a5f" opacity="0.30"/><ellipse cx="372.8" cy="349.7" rx="1.2" ry="0.9" fill="#655a5f" opacity="0.30"/>
<circle cx="351.3" cy="301.8" r="13.8" fill="#4a3336" opacity="0.20"/><circle cx="350.0" cy="300.0" r="13.0" fill="url(#sg2)"/><ellipse cx="356.2" cy="300.6" rx="2.9" ry="2.3" fill="#655a5f" opacity="0.30"/><ellipse cx="347.8" cy="308.1" rx="3.0" ry="2.4" fill="#655a5f" opacity="0.30"/><ellipse cx="349.6" cy="303.3" rx="2.3" ry="1.8" fill="#655a5f" opacity="0.30"/><ellipse cx="344.7" cy="299.2" rx="2.4" ry="1.9" fill="#655a5f" opacity="0.30"/><ellipse cx="357.8" cy="302.5" rx="1.6" ry="1.3" fill="#655a5f" opacity="0.30"/>
<defs><linearGradient id="bm" gradientUnits="userSpaceOnUse" x1="184.6" y1="440.6" x2="562.5" y2="301"><stop offset="0" stop-color="#b5232b"/><stop offset="0.18" stop-color="#b0262f" stop-opacity="0.85"/><stop offset="0.36" stop-color="#a23646" stop-opacity="0.7"/><stop offset="0.44" stop-color="#8a4f68"/><stop offset="0.54" stop-color="#735f7e"/><stop offset="0.7" stop-color="#5f78a8"/><stop offset="0.85" stop-color="#558fc0"/><stop offset="1" stop-color="#5ba5cf"/></linearGradient></defs>
<polygon points="184.0,439.1 278.6,404.5 392.0,362.7 561.7,298.7 563.3,303.3 392.8,364.9 279.5,406.9 185.2,442.1" fill="url(#bm)"/>
<circle cx="248.5" cy="76" r="32.2" fill="#fff" fill-opacity="0.76"/>
<circle cx="331" cy="137" r="32.1" fill="#fff" fill-opacity="0.76"/>
<circle cx="249.5" cy="182.5" r="32.4" fill="#fff" fill-opacity="0.76"/>
<circle cx="336.2" cy="208" r="32.2" fill="#fff" fill-opacity="0.76"/>
<circle cx="406.5" cy="164" r="32" fill="#fff" fill-opacity="0.76"/>
<circle cx="316" cy="310" r="39" fill="#fff" fill-opacity="0.68"/>
<g fill="none" stroke="#4a9cc8" stroke-width="1.35" stroke-linecap="round" stroke-linejoin="round"><ellipse cx="244.2" cy="74.4" rx="21" ry="11.3"/><path d="M229.5,61.6 C231,50.5 256.5,50.5 258,61.6"/><path d="M224,61.4 H262.6" stroke-width="1.2"/><path d="M225.2,61.4 v4.0 M227.8,61.4 v4.0 M230.3,61.4 v4.0 M232.9,61.4 v4.0 M235.4,61.4 v4.0 M238.0,61.4 v4.0 M240.5,61.4 v4.0 M243.1,61.4 v4.0 M245.6,61.4 v4.0 M248.2,61.4 v4.0 M250.7,61.4 v4.0 M253.3,61.4 v4.0 M255.8,61.4 v4.0 M258.4,61.4 v4.0 M260.9,61.4 v4.0" stroke-width="1.0"/><path d="M233.7,68.2 h6.2 a2.2,2.2 0 0 1 0,4.6 h-0.9 v7.0 a2.2,2.2 0 0 1 -4.4,0 v-7.0 h-0.9 a2.2,2.2 0 0 1 0,-4.6 z" fill="#e4dde4"/><path d="M249.9,68.2 h6.2 a2.2,2.2 0 0 1 0,4.6 h-0.9 v7.0 a2.2,2.2 0 0 1 -4.4,0 v-7.0 h-0.9 a2.2,2.2 0 0 1 0,-4.6 z" fill="#e4dde4"/><path d="M234.6,68 v-2 M236.8,68 v-2 M239,68 v-2" stroke-width="0.8"/><path d="M228.6,80.2 C225.6,83 224.6,86.5 226,89.5" stroke-dasharray="2 1.3" stroke-width="1.25"/><ellipse cx="231.4" cy="91.8" rx="6.7" ry="4.9" transform="rotate(-14 231.4 91.8)" stroke-dasharray="2 1.3" stroke-width="1.25"/><path d="M226,94.6 C229,99.6 236,98.6 238,94.6" stroke-dasharray="2 1.3" stroke-width="1.25"/></g>
<g fill="none" stroke-linecap="round"><circle cx="333.3" cy="135.4" r="15.6" fill="#7a8ac9" stroke="#6c80c6" stroke-width="0.9"/><path d="M342.9,120.0 A18.2,18.2 0 0 1 351.1,131.6" stroke-width="1.9" stroke="#5f78c4"/><path d="M351.4,133.5 A18.2,18.2 0 0 1 345.5,148.9" stroke-width="1.9" stroke="#5f78c4"/><path d="M346.0,119.2 A20.6,20.6 0 0 1 352.7,128.4" stroke-width="1.7" stroke="#5f78c4"/><path d="M353.4,130.8 A20.6,20.6 0 0 1 352.4,143.1" stroke-width="1.7" stroke="#5f78c4"/><path d="M348.0,117.9 A22.8,22.8 0 0 1 353.0,124.0" stroke-width="1.5" stroke="#5f78c4"/><path d="M355.4,129.9 A22.8,22.8 0 0 1 356.0,137.0" stroke-width="1.5" stroke="#5f78c4"/><path d="M344.4,149.6 A18.0,18.0 0 0 1 331.4,153.3" stroke-width="1.9" stroke="#5f78c4"/><path d="M328.9,152.9 A18.0,18.0 0 0 1 317.4,143.9" stroke-width="1.9" stroke="#5f78c4"/><path d="M344.1,152.7 A20.4,20.4 0 0 1 331.5,155.7" stroke-width="1.8" stroke="#5f78c4"/><path d="M328.0,155.1 A20.4,20.4 0 0 1 317.2,148.0" stroke-width="1.8" stroke="#5f78c4"/><path d="M342.6,156.2 A22.8,22.8 0 0 1 331.7,158.1" stroke-width="1.8" stroke="#5f78c4"/><path d="M327.0,157.3 A22.8,22.8 0 0 1 318.6,152.9" stroke-width="1.8" stroke="#5f78c4"/><path d="M339.4,159.9 A25.2,25.2 0 0 1 332.0,160.6" stroke-width="1.8" stroke="#5f78c4"/><path d="M327.6,160.0 A25.2,25.2 0 0 1 321.5,157.7" stroke-width="1.8" stroke="#5f78c4"/><path d="M316.8,128.4 A17.9,17.9 0 0 1 326.6,118.8" stroke-width="1.7" stroke="#5f78c4"/><path d="M316.4,124.9 A19.9,19.9 0 0 1 322.8,118.5" stroke-width="1.5" stroke="#5f78c4"/><path d="M328.4,118.5 A17.6,17.6 0 0 1 339.9,119.1" stroke-width="1.4" stroke="#5f78c4"/><path d="M336.2,151 V161.8" stroke="#5f78c4" stroke-width="2"/></g>
<g stroke-linecap="round" stroke-linejoin="round"><path d="M228,168 C227.5,163.5 230,160.8 236,160.5 C243,160 252,161 259,164 C267,167.5 274,174 276.3,181 C278.2,187.5 275,192 268.5,191.8 C263,191.6 259.5,189.8 255.5,186 C251,181.7 247.5,179.2 242,177.7 C236.5,176.2 229,174.5 228,168 Z" fill="#e8894c" stroke="#b56a35" stroke-width="0.7"/><path d="M230.6,167.6 C230.4,164.4 232.3,163 236.5,162.8 C243,162.5 251.5,163.3 258,166.2 C265.5,169.5 271.6,175 273.7,181.4 C275.2,186.4 273,189.4 268.4,189.2 C263.8,189 260.6,187.4 257,184 C252.5,179.6 248.6,176.9 242.8,175.3 C237.6,173.9 231.2,172.6 230.6,167.6 Z" fill="#f3d257" stroke="#c97838" stroke-width="0.6"/><g fill="none" stroke="#e2823f" stroke-width="1.8"><path d="M236.5,172.6 V169.6 C236.5,167.4 240.8,167.4 240.8,169.6 V174.8"/><path d="M245.1,164.6 L243.8,175.4"/><path d="M249.9,165.6 L248.6,177.8"/><path d="M254.3,166.8 L252.9,180.6"/><path d="M249.3,171.4 L253.7,172.2"/><path d="M260.4,169.6 L257.4,183.6"/><path d="M263.5,171.6 L262.1,179.8"/><path d="M265.9,176.8 C265,180.4 265.6,182.4 268,182.4 C270.4,182.4 271.4,180.4 272.1,177.2"/></g></g>
<g fill="none" stroke="#4b3a78" stroke-linecap="round" stroke-linejoin="round"><path d="M340.5,177 L353,186.8 L346.8,188.4 Z" stroke-width="0.9" fill="#efe9f0"/><path d="M352.4,187.2 Q341.4,187.6 330.2,193.4" stroke-width="1.6"/><path d="M351.2,191.2 Q340.4,195.8 331.2,196.6" stroke-width="1"/><path d="M351.5,187.2 L349.0,192.1 M349.6,187.4 L347.3,192.8 M347.8,187.6 L345.5,193.4 M346.0,187.9 L343.8,194.0 M344.1,188.3 L342.1,194.5 M342.3,188.7 L340.4,194.9 M340.4,189.2 L338.8,195.4 M338.6,189.8 L337.2,195.7 M336.7,190.5 L335.5,196.0 M334.9,191.2 L334.0,196.3 M333.0,192.0 L332.4,196.5 M331.1,192.9 L331.2,196.6" stroke-width="0.5"/><path d="M328.9,194.8 Q326.4,202.4 333.0,211.4" stroke-width="1"/><path d="M335.2,193.2 Q340.0,202.0 338.6,210.2" stroke-width="1"/><path d="M328.7,195.6 L336.2,195.1 M328.4,197.1 L336.9,196.9 M328.2,198.7 L337.6,198.6 M328.3,200.3 L338.1,200.3 M328.5,201.9 L338.5,202.0 M328.9,203.6 L338.7,203.7 M329.5,205.3 L338.9,205.4 M330.3,207.0 L338.9,207.1 M331.2,208.7 L338.8,208.7 M332.4,210.5 L338.6,210.2" stroke-width="0.5"/><path d="M338.6,210.8 Q324.4,213.6 313.0,220.6" stroke-width="1.6"/><path d="M335.4,216.2 Q323.2,220.8 313.6,222.8" stroke-width="1"/><path d="M337.5,211.0 L333.0,217.1 M335.4,211.5 L331.2,217.7 M333.2,212.0 L329.4,218.4 M331.2,212.6 L327.6,218.9 M329.1,213.2 L325.9,219.5 M327.1,213.9 L324.2,220.0 M325.1,214.7 L322.6,220.5 M323.1,215.4 L320.9,221.0 M321.2,216.3 L319.3,221.4 M319.3,217.1 L317.7,221.8 M317.5,218.1 L316.2,222.2 M315.7,219.0 L314.7,222.6 M313.9,220.1 L313.6,222.8" stroke-width="0.5"/><path d="M313.2,221.4 L322.4,229.4 L319.2,221.2" stroke-width="0.9" fill="#efe9f0"/><path d="M343.2,180.4 l1.8,-0.8 M345.2,183 l2.6,-1.2 M347,185.6 l3,-1.2 M316.2,223.6 l2.2,-0.6 M318.6,225.8 l1.8,-0.6" stroke-width="0.55"/></g>
<polygon points="392.2,151.2 457.6,151.2 457.6,164.6 392.2,164.6" fill="#cdd27a"/><polygon points="457.6,151.2 473.2,135.4 473.2,147.8 457.6,164.6" fill="#bcc468"/><path d="M393.0,153.2 v9.4 M394.6,153.2 v9.4 M396.3,153.2 v9.4 M397.9,153.2 v9.4 M399.6,153.2 v9.4 M401.2,153.2 v9.4 M402.9,153.2 v9.4 M404.5,153.2 v9.4 M406.2,153.2 v9.4 M407.8,153.2 v9.4 M409.5,153.2 v9.4 M411.1,153.2 v9.4 M412.8,153.2 v9.4 M414.4,153.2 v9.4 M416.1,153.2 v9.4 M417.7,153.2 v9.4 M419.4,153.2 v9.4 M421.0,153.2 v9.4 M422.7,153.2 v9.4 M424.3,153.2 v9.4 M426.0,153.2 v9.4 M427.6,153.2 v9.4 M429.3,153.2 v9.4 M430.9,153.2 v9.4 M432.6,153.2 v9.4 M434.2,153.2 v9.4 M435.9,153.2 v9.4 M437.5,153.2 v9.4 M439.2,153.2 v9.4 M440.8,153.2 v9.4 M442.5,153.2 v9.4 M444.1,153.2 v9.4 M445.8,153.2 v9.4 M447.4,153.2 v9.4 M449.1,153.2 v9.4 M450.7,153.2 v9.4 M452.4,153.2 v9.4 M454.0,153.2 v9.4 M455.7,153.2 v9.4 M457.3,153.2 v9.4 M457.6,153.2 v8.4 M458.9,151.9 v8.4 M460.2,150.6 v8.4 M461.5,149.2 v8.4 M462.8,147.9 v8.4 M464.1,146.6 v8.4 M465.4,145.3 v8.4 M466.7,144.0 v8.4 M468.0,142.7 v8.4 M469.3,141.3 v8.4 M470.6,140.0 v8.4 M471.9,138.7 v8.4 M473.2,137.4 v8.4" stroke="#97a548" stroke-width="0.5" fill="none"/><polygon points="411.2,135.4 473.2,135.4 457.6,151.2 392.2,151.2" fill="#62b2e8"/><g fill="#76bff0" stroke="#4e9fdb" stroke-width="0.3"><circle cx="411.2" cy="135.4" r="1.75"/><circle cx="414.3" cy="135.4" r="1.75"/><circle cx="417.4" cy="135.4" r="1.75"/><circle cx="420.5" cy="135.4" r="1.75"/><circle cx="423.6" cy="135.4" r="1.75"/><circle cx="426.7" cy="135.4" r="1.75"/><circle cx="429.8" cy="135.4" r="1.75"/><circle cx="432.9" cy="135.4" r="1.75"/><circle cx="436.0" cy="135.4" r="1.75"/><circle cx="439.1" cy="135.4" r="1.75"/><circle cx="442.2" cy="135.4" r="1.75"/><circle cx="445.3" cy="135.4" r="1.75"/><circle cx="448.4" cy="135.4" r="1.75"/><circle cx="451.5" cy="135.4" r="1.75"/><circle cx="454.6" cy="135.4" r="1.75"/><circle cx="457.7" cy="135.4" r="1.75"/><circle cx="460.8" cy="135.4" r="1.75"/><circle cx="463.9" cy="135.4" r="1.75"/><circle cx="467.0" cy="135.4" r="1.75"/><circle cx="470.1" cy="135.4" r="1.75"/><circle cx="473.2" cy="135.4" r="1.75"/><circle cx="409.6" cy="138.0" r="1.75"/><circle cx="412.7" cy="138.0" r="1.75"/><circle cx="415.9" cy="138.0" r="1.75"/><circle cx="419.0" cy="138.0" r="1.75"/><circle cx="422.1" cy="138.0" r="1.75"/><circle cx="425.2" cy="138.0" r="1.75"/><circle cx="428.4" cy="138.0" r="1.75"/><circle cx="431.5" cy="138.0" r="1.75"/><circle cx="434.6" cy="138.0" r="1.75"/><circle cx="437.8" cy="138.0" r="1.75"/><circle cx="440.9" cy="138.0" r="1.75"/><circle cx="444.0" cy="138.0" r="1.75"/><circle cx="447.1" cy="138.0" r="1.75"/><circle cx="450.3" cy="138.0" r="1.75"/><circle cx="453.4" cy="138.0" r="1.75"/><circle cx="456.5" cy="138.0" r="1.75"/><circle cx="459.7" cy="138.0" r="1.75"/><circle cx="462.8" cy="138.0" r="1.75"/><circle cx="465.9" cy="138.0" r="1.75"/><circle cx="469.0" cy="138.0" r="1.75"/><circle cx="404.9" cy="140.7" r="1.75"/><circle cx="408.0" cy="140.7" r="1.75"/><circle cx="411.2" cy="140.7" r="1.75"/><circle cx="414.3" cy="140.7" r="1.75"/><circle cx="417.5" cy="140.7" r="1.75"/><circle cx="420.6" cy="140.7" r="1.75"/><circle cx="423.8" cy="140.7" r="1.75"/><circle cx="427.0" cy="140.7" r="1.75"/><circle cx="430.1" cy="140.7" r="1.75"/><circle cx="433.3" cy="140.7" r="1.75"/><circle cx="436.4" cy="140.7" r="1.75"/><circle cx="439.6" cy="140.7" r="1.75"/><circle cx="442.7" cy="140.7" r="1.75"/><circle cx="445.9" cy="140.7" r="1.75"/><circle cx="449.1" cy="140.7" r="1.75"/><circle cx="452.2" cy="140.7" r="1.75"/><circle cx="455.4" cy="140.7" r="1.75"/><circle cx="458.5" cy="140.7" r="1.75"/><circle cx="461.7" cy="140.7" r="1.75"/><circle cx="464.8" cy="140.7" r="1.75"/><circle cx="468.0" cy="140.7" r="1.75"/><circle cx="403.3" cy="143.3" r="1.75"/><circle cx="406.5" cy="143.3" r="1.75"/><circle cx="409.7" cy="143.3" r="1.75"/><circle cx="412.8" cy="143.3" r="1.75"/><circle cx="416.0" cy="143.3" r="1.75"/><circle cx="419.2" cy="143.3" r="1.75"/><circle cx="422.4" cy="143.3" r="1.75"/><circle cx="425.6" cy="143.3" r="1.75"/><circle cx="428.8" cy="143.3" r="1.75"/><circle cx="432.0" cy="143.3" r="1.75"/><circle cx="435.1" cy="143.3" r="1.75"/><circle cx="438.3" cy="143.3" r="1.75"/><circle cx="441.5" cy="143.3" r="1.75"/><circle cx="444.7" cy="143.3" r="1.75"/><circle cx="447.9" cy="143.3" r="1.75"/><circle cx="451.1" cy="143.3" r="1.75"/><circle cx="454.3" cy="143.3" r="1.75"/><circle cx="457.4" cy="143.3" r="1.75"/><circle cx="460.6" cy="143.3" r="1.75"/><circle cx="463.8" cy="143.3" r="1.75"/><circle cx="398.5" cy="145.9" r="1.75"/><circle cx="401.7" cy="145.9" r="1.75"/><circle cx="405.0" cy="145.9" r="1.75"/><circle cx="408.2" cy="145.9" r="1.75"/><circle cx="411.4" cy="145.9" r="1.75"/><circle cx="414.6" cy="145.9" r="1.75"/><circle cx="417.8" cy="145.9" r="1.75"/><circle cx="421.0" cy="145.9" r="1.75"/><circle cx="424.2" cy="145.9" r="1.75"/><circle cx="427.5" cy="145.9" r="1.75"/><circle cx="430.7" cy="145.9" r="1.75"/><circle cx="433.9" cy="145.9" r="1.75"/><circle cx="437.1" cy="145.9" r="1.75"/><circle cx="440.3" cy="145.9" r="1.75"/><circle cx="443.5" cy="145.9" r="1.75"/><circle cx="446.7" cy="145.9" r="1.75"/><circle cx="449.9" cy="145.9" r="1.75"/><circle cx="453.2" cy="145.9" r="1.75"/><circle cx="456.4" cy="145.9" r="1.75"/><circle cx="459.6" cy="145.9" r="1.75"/><circle cx="462.8" cy="145.9" r="1.75"/><circle cx="397.0" cy="148.6" r="1.75"/><circle cx="400.2" cy="148.6" r="1.75"/><circle cx="403.5" cy="148.6" r="1.75"/><circle cx="406.7" cy="148.6" r="1.75"/><circle cx="410.0" cy="148.6" r="1.75"/><circle cx="413.2" cy="148.6" r="1.75"/><circle cx="416.4" cy="148.6" r="1.75"/><circle cx="419.7" cy="148.6" r="1.75"/><circle cx="422.9" cy="148.6" r="1.75"/><circle cx="426.2" cy="148.6" r="1.75"/><circle cx="429.4" cy="148.6" r="1.75"/><circle cx="432.6" cy="148.6" r="1.75"/><circle cx="435.9" cy="148.6" r="1.75"/><circle cx="439.1" cy="148.6" r="1.75"/><circle cx="442.4" cy="148.6" r="1.75"/><circle cx="445.6" cy="148.6" r="1.75"/><circle cx="448.9" cy="148.6" r="1.75"/><circle cx="452.1" cy="148.6" r="1.75"/><circle cx="455.3" cy="148.6" r="1.75"/><circle cx="458.6" cy="148.6" r="1.75"/><circle cx="392.2" cy="151.2" r="1.75"/><circle cx="395.5" cy="151.2" r="1.75"/><circle cx="398.7" cy="151.2" r="1.75"/><circle cx="402.0" cy="151.2" r="1.75"/><circle cx="405.3" cy="151.2" r="1.75"/><circle cx="408.6" cy="151.2" r="1.75"/><circle cx="411.8" cy="151.2" r="1.75"/><circle cx="415.1" cy="151.2" r="1.75"/><circle cx="418.4" cy="151.2" r="1.75"/><circle cx="421.6" cy="151.2" r="1.75"/><circle cx="424.9" cy="151.2" r="1.75"/><circle cx="428.2" cy="151.2" r="1.75"/><circle cx="431.4" cy="151.2" r="1.75"/><circle cx="434.7" cy="151.2" r="1.75"/><circle cx="438.0" cy="151.2" r="1.75"/><circle cx="441.2" cy="151.2" r="1.75"/><circle cx="444.5" cy="151.2" r="1.75"/><circle cx="447.8" cy="151.2" r="1.75"/><circle cx="451.1" cy="151.2" r="1.75"/><circle cx="454.3" cy="151.2" r="1.75"/><circle cx="457.6" cy="151.2" r="1.75"/></g><polygon points="434,137.5 462,137.5 452,146.5 424,146.5" fill="#c9eafc" opacity="0.35"/><g fill="#4fa5e2" stroke="#378bce" stroke-width="0.3"><circle cx="392.2" cy="151.8" r="1.9"/><circle cx="392.2" cy="164.4" r="1.9"/><circle cx="395.5" cy="151.8" r="1.9"/><circle cx="395.5" cy="164.4" r="1.9"/><circle cx="398.7" cy="151.8" r="1.9"/><circle cx="398.7" cy="164.4" r="1.9"/><circle cx="402.0" cy="151.8" r="1.9"/><circle cx="402.0" cy="164.4" r="1.9"/><circle cx="405.3" cy="151.8" r="1.9"/><circle cx="405.3" cy="164.4" r="1.9"/><circle cx="408.5" cy="151.8" r="1.9"/><circle cx="408.5" cy="164.4" r="1.9"/><circle cx="411.8" cy="151.8" r="1.9"/><circle cx="411.8" cy="164.4" r="1.9"/><circle cx="415.1" cy="151.8" r="1.9"/><circle cx="415.1" cy="164.4" r="1.9"/><circle cx="418.4" cy="151.8" r="1.9"/><circle cx="418.4" cy="164.4" r="1.9"/><circle cx="421.6" cy="151.8" r="1.9"/><circle cx="421.6" cy="164.4" r="1.9"/><circle cx="424.9" cy="151.8" r="1.9"/><circle cx="424.9" cy="164.4" r="1.9"/><circle cx="428.2" cy="151.8" r="1.9"/><circle cx="428.2" cy="164.4" r="1.9"/><circle cx="431.4" cy="151.8" r="1.9"/><circle cx="431.4" cy="164.4" r="1.9"/><circle cx="434.7" cy="151.8" r="1.9"/><circle cx="434.7" cy="164.4" r="1.9"/><circle cx="438.0" cy="151.8" r="1.9"/><circle cx="438.0" cy="164.4" r="1.9"/><circle cx="441.2" cy="151.8" r="1.9"/><circle cx="441.2" cy="164.4" r="1.9"/><circle cx="444.5" cy="151.8" r="1.9"/><circle cx="444.5" cy="164.4" r="1.9"/><circle cx="447.8" cy="151.8" r="1.9"/><circle cx="447.8" cy="164.4" r="1.9"/><circle cx="451.1" cy="151.8" r="1.9"/><circle cx="451.1" cy="164.4" r="1.9"/><circle cx="454.3" cy="151.8" r="1.9"/><circle cx="454.3" cy="164.4" r="1.9"/><circle cx="457.6" cy="151.8" r="1.9"/><circle cx="457.6" cy="164.4" r="1.9"/><circle cx="457.6" cy="151.8" r="1.8"/><circle cx="457.6" cy="163.6" r="1.8"/><circle cx="460.2" cy="149.2" r="1.8"/><circle cx="460.2" cy="161.0" r="1.8"/><circle cx="462.8" cy="146.5" r="1.8"/><circle cx="462.8" cy="158.3" r="1.8"/><circle cx="465.4" cy="143.9" r="1.8"/><circle cx="465.4" cy="155.7" r="1.8"/><circle cx="468.0" cy="141.3" r="1.8"/><circle cx="468.0" cy="153.1" r="1.8"/><circle cx="470.6" cy="138.6" r="1.8"/><circle cx="470.6" cy="150.4" r="1.8"/><circle cx="473.2" cy="136.0" r="1.8"/><circle cx="473.2" cy="147.8" r="1.8"/></g><rect x="402.2" y="149.2" width="6.4" height="20.6" rx="2.6" fill="#f3c044"/><ellipse cx="405.4" cy="149.8" rx="3.6" ry="1.6" fill="#f8d668"/><path d="M413.2,144.4 C413.2,141.4 415,140.4 416.4,140.4 C417.8,140.4 419.6,141.4 419.6,144.4 Z" fill="#f3c044"/><path d="M416.4,140.6 V136 M416.4,137 L414.2,134.6 M416.4,137 L418.6,134.2" stroke="#e07b39" stroke-width="1" fill="none" stroke-linecap="round"/><path d="M451.2,136.4 C451.6,133.6 453.4,133 454.6,133 C455.8,133 457.8,133.6 458.2,136.4 Z" fill="#f3c044"/>
<rect x="524" y="45.8" width="77.2" height="24" rx="12" fill="#dde4ee"/>
<rect x="125.4" y="380.6" width="91.7" height="34.8" rx="12" fill="#fff" fill-opacity="0.80"/>
<text x="186.1" y="33.9" font-size="11.8" fill="#452f5c" stroke="#452f5c" stroke-width="0.85" stroke-linejoin="round" text-anchor="start" textLength="155.4" lengthAdjust="spacingAndGlyphs">METABOLISM NETWORK DISRUPTION</text>
<text x="562.6" y="61.3" font-size="11.8" fill="#5b98b8" stroke="#5b98b8" stroke-width="0.85" stroke-linejoin="round" text-anchor="middle" textLength="59.7" lengthAdjust="spacingAndGlyphs">HOMEOSTASIS</text>
<text x="171.2" y="397.1" font-size="12" fill="#a3242a" stroke="#a3242a" stroke-width="0.85" stroke-linejoin="round" text-anchor="middle" textLength="84.3" lengthAdjust="spacingAndGlyphs">CHRONIC OXIDATIVE</text>
<text x="171.2" y="409.2" font-size="12" fill="#a3242a" stroke="#a3242a" stroke-width="0.85" stroke-linejoin="round" text-anchor="middle" textLength="36.3" lengthAdjust="spacingAndGlyphs">DAMAGE</text>
<text x="412.2" y="391.6" font-size="11.6" fill="#f6f1ef" stroke="#f6f1ef" stroke-width="0.85" stroke-linejoin="round" text-anchor="middle" textLength="27.9" lengthAdjust="spacingAndGlyphs">REDOX</text>
<text x="412.2" y="404.8" font-size="11.6" fill="#f6f1ef" stroke="#f6f1ef" stroke-width="0.85" stroke-linejoin="round" text-anchor="middle" textLength="38.3" lengthAdjust="spacingAndGlyphs">BALANCE</text>
<text x="315.7" y="307.3" font-size="12" fill="#5a3f8a" stroke="#5a3f8a" stroke-width="0.85" stroke-linejoin="round" text-anchor="middle" textLength="63.6" lengthAdjust="spacingAndGlyphs">LOW LEVELS OF</text>
<text x="315.9" y="320.5" font-size="12" fill="#5a3f8a" stroke="#5a3f8a" stroke-width="0.85" stroke-linejoin="round" text-anchor="middle" textLength="53.1" lengthAdjust="spacingAndGlyphs">MYCOTOXINS</text>
<text x="257.7" y="131.7" font-size="12" fill="#452f5c" stroke="#452f5c" stroke-width="0.85" stroke-linejoin="round" text-anchor="start" textLength="54" lengthAdjust="spacingAndGlyphs">ER dysfunction</text>
<text x="251.5" y="96.4" font-size="12" fill="#452f5c" stroke="#452f5c" stroke-width="0.15" stroke-linejoin="round" text-anchor="start" textLength="77.6" lengthAdjust="spacingAndGlyphs">Ribosome dysfuntion</text>
<text x="174.4" y="202.7" font-size="12" fill="#452f5c" stroke="#452f5c" stroke-width="0.15" stroke-linejoin="round" text-anchor="start" textLength="94.6" lengthAdjust="spacingAndGlyphs">Mytochondrial dysfuntion</text>
<text x="348" y="221" font-size="12" fill="#452f5c" stroke="#452f5c" stroke-width="0.15" stroke-linejoin="round" text-anchor="start" textLength="47.6" lengthAdjust="spacingAndGlyphs">DNA damage</text>
<text x="425.5" y="181.7" font-size="12" fill="#452f5c" stroke="#452f5c" stroke-width="0.15" stroke-linejoin="round" text-anchor="middle" textLength="55.8" lengthAdjust="spacingAndGlyphs">Cell membrane</text>
<text x="425.3" y="193.2" font-size="12" fill="#452f5c" stroke="#452f5c" stroke-width="0.15" stroke-linejoin="round" text-anchor="middle" textLength="29.5" lengthAdjust="spacingAndGlyphs">damage</text>
<text x="0" y="0" font-size="12.5" fill="#3d62b0" stroke="#3d62b0" stroke-width="0.6" stroke-linejoin="round" text-anchor="start" textLength="63" lengthAdjust="spacingAndGlyphs" transform="translate(500.2,342.6) rotate(-17.2)">ANTIOXIDANTS</text>
<text x="0" y="0" font-size="12.5" fill="#b0252d" stroke="#b0252d" stroke-width="0.6" stroke-linejoin="round" text-anchor="start" textLength="63.5" lengthAdjust="spacingAndGlyphs" transform="translate(234.6,439.6) rotate(-17.6)">FREE RADICALS</text>
<text x="531.1" y="360.4" font-size="11.6" fill="#3f64b2" stroke="#3f64b2" stroke-width="0.5" stroke-linejoin="round" text-anchor="start" textLength="15.2" lengthAdjust="spacingAndGlyphs">GSH</text>
<path d="M526.6,351.8 v8.6 m-2.1,-2.4 l2.1,2.6 l2.1,-2.6" stroke="#62ad4b" stroke-width="1.15" fill="none" stroke-linecap="round" stroke-linejoin="round"/>
<text x="531.1" y="373.9" font-size="11.6" fill="#3f64b2" stroke="#3f64b2" stroke-width="0.5" stroke-linejoin="round" text-anchor="start" textLength="15.4" lengthAdjust="spacingAndGlyphs">SOD</text>
<path d="M526.6,365.3 v8.6 m-2.1,-2.4 l2.1,2.6 l2.1,-2.6" stroke="#62ad4b" stroke-width="1.15" fill="none" stroke-linecap="round" stroke-linejoin="round"/>
<text x="531.1" y="387.3" font-size="11.6" fill="#3f64b2" stroke="#3f64b2" stroke-width="0.5" stroke-linejoin="round" text-anchor="start" textLength="14.2" lengthAdjust="spacingAndGlyphs">CAT</text>
<path d="M526.6,378.7 v8.6 m-2.1,-2.4 l2.1,2.6 l2.1,-2.6" stroke="#62ad4b" stroke-width="1.15" fill="none" stroke-linecap="round" stroke-linejoin="round"/>
<text x="531.1" y="400.7" font-size="11.6" fill="#3f64b2" stroke="#3f64b2" stroke-width="0.5" stroke-linejoin="round" text-anchor="start" textLength="14.2" lengthAdjust="spacingAndGlyphs">GPx</text>
<path d="M526.6,392.1 v8.6 m-2.1,-2.4 l2.1,2.6 l2.1,-2.6" stroke="#62ad4b" stroke-width="1.15" fill="none" stroke-linecap="round" stroke-linejoin="round"/>
<text x="531.1" y="413.9" font-size="11.6" fill="#3f64b2" stroke="#3f64b2" stroke-width="0.5" stroke-linejoin="round" text-anchor="start" textLength="15.4" lengthAdjust="spacingAndGlyphs">Nrf2</text>
<path d="M526.6,405.3 v8.6 m-2.1,-2.4 l2.1,2.6 l2.1,-2.6" stroke="#62ad4b" stroke-width="1.15" fill="none" stroke-linecap="round" stroke-linejoin="round"/>
<text x="305.4" y="435.8" font-size="11.6" fill="#aa2830" stroke="#aa2830" stroke-width="0.25" stroke-linejoin="round" text-anchor="start" textLength="70.7" lengthAdjust="spacingAndGlyphs">ROS (CYP enzymes)</text>
<text x="305.4" y="448.7" font-size="11.6" fill="#aa2830" stroke="#aa2830" stroke-width="0.25" stroke-linejoin="round" text-anchor="start" textLength="17" lengthAdjust="spacingAndGlyphs">MDA</text>
<path d="M300.6,436.0 v-8.8 m-2.1,2.5 l2.1,-2.7 l2.1,2.7" stroke="#6fb955" stroke-width="1.25" fill="none" stroke-linecap="round" stroke-linejoin="round"/>
<path d="M300.6,448.9 v-8.8 m-2.1,2.5 l2.1,-2.7 l2.1,2.7" stroke="#6fb955" stroke-width="1.25" fill="none" stroke-linecap="round" stroke-linejoin="round"/>
</svg>
</body></html>
